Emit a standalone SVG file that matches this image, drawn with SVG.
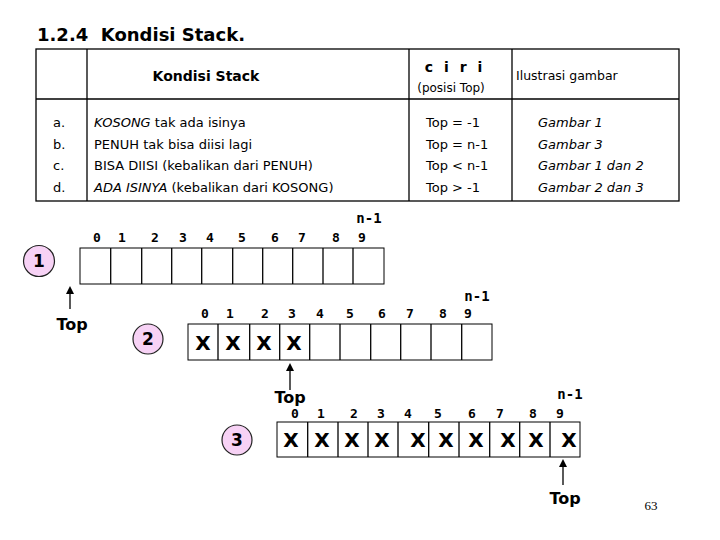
<svg xmlns="http://www.w3.org/2000/svg" width="720" height="540" viewBox="0 0 720 540">
<style>
text{font-family:"Comic Sans MS","DejaVu Sans","Liberation Sans",sans-serif;fill:#000}
.t{font-size:13px}
.h{font-size:14px;font-weight:bold}
.idx{font-size:13px;font-weight:bold;text-anchor:middle;font-family:"DejaVu Sans Mono","Liberation Mono",monospace}
.n1{font-size:14px;font-weight:bold;font-family:"DejaVu Sans Mono","Liberation Mono",monospace;text-anchor:middle}
.x{font-size:20px;font-weight:bold;text-anchor:middle}
.cell{fill:#fff;stroke:#000;stroke-width:1}
.circ{fill:#f7d2f5;stroke:#222;stroke-width:1.2}
.cn{font-size:17px;font-weight:bold;text-anchor:middle}
.ln{stroke:#000;stroke-width:1.3}
.top{font-size:16px;font-weight:bold;text-anchor:middle}
</style>
<defs>
<marker id="ah" markerWidth="8" markerHeight="8" refX="4" refY="4" orient="auto" markerUnits="userSpaceOnUse">
<path d="M0,0 L8,4 L0,8 z" fill="#000"/>
</marker>
</defs>
<text x="37" y="41" style="font-size:18px;font-weight:bold">1.2.4&#160; Kondisi Stack.</text>
<g id="table">
<rect x="36" y="49" width="643" height="152" fill="none" stroke="#000" stroke-width="1.3"/>
<line x1="87" y1="49" x2="87" y2="201" class="ln"/>
<line x1="409" y1="49" x2="409" y2="201" class="ln"/>
<line x1="512" y1="49" x2="512" y2="201" class="ln"/>
<line x1="36" y1="99" x2="679" y2="99" class="ln"/>
<text x="206" y="81" class="h" text-anchor="middle">Kondisi Stack</text>
<text x="455" y="72" class="h" text-anchor="middle" letter-spacing="3">c i r i</text>
<text x="451" y="92" style="font-size:12px" text-anchor="middle">(posisi Top)</text>
<text x="516" y="80" style="font-size:12.5px">Ilustrasi gambar</text>
<text x="53" y="127" class="t">a.</text>
<text x="53" y="149" class="t">b.</text>
<text x="53" y="170" class="t">c.</text>
<text x="53" y="192" class="t">d.</text>
<text x="94" y="127" class="t"><tspan font-style="italic">KOSONG</tspan> tak ada isinya</text>
<text x="94" y="149" class="t">PENUH tak bisa diisi lagi</text>
<text x="94" y="170" class="t">BISA DIISI (kebalikan dari PENUH)</text>
<text x="94" y="192" class="t"><tspan font-style="italic">ADA ISINYA</tspan> (kebalikan dari KOSONG)</text>
<text x="426" y="127" class="t">Top = -1</text>
<text x="426" y="149" class="t">Top = n-1</text>
<text x="426" y="170" class="t">Top &lt; n-1</text>
<text x="426" y="192" class="t">Top &gt; -1</text>
<text x="538" y="127" class="t" font-style="italic">Gambar 1</text>
<text x="538" y="149" class="t" font-style="italic">Gambar 3</text>
<text x="538" y="170" class="t" font-style="italic">Gambar 1 dan 2</text>
<text x="538" y="192" class="t" font-style="italic">Gambar 2 dan 3</text>
</g>
<g id="array1">
<rect x="80" y="248" width="304" height="36" class="cell"/>
<line x1="110.7" y1="248" x2="110.7" y2="284" class="ln"/>
<line x1="141.7" y1="248" x2="141.7" y2="284" class="ln"/>
<line x1="171.7" y1="248" x2="171.7" y2="284" class="ln"/>
<line x1="201.7" y1="248" x2="201.7" y2="284" class="ln"/>
<line x1="232.7" y1="248" x2="232.7" y2="284" class="ln"/>
<line x1="262.7" y1="248" x2="262.7" y2="284" class="ln"/>
<line x1="292.7" y1="248" x2="292.7" y2="284" class="ln"/>
<line x1="323" y1="248" x2="323" y2="284" class="ln"/>
<line x1="353" y1="248" x2="353" y2="284" class="ln"/>
<text y="242" class="idx"><tspan x="97">0</tspan><tspan x="122">1</tspan><tspan x="155">2</tspan><tspan x="183">3</tspan><tspan x="210">4</tspan><tspan x="242">5</tspan><tspan x="275">6</tspan><tspan x="302">7</tspan><tspan x="336">8</tspan><tspan x="362">9</tspan></text>
<text x="369" y="223" class="n1">n-1</text>
</g>
<g id="circle1"><circle cx="39" cy="261" r="15.5" class="circ"/><text x="39" y="267" class="cn">1</text></g>
<g id="array2">
<rect x="188" y="324" width="304" height="36" class="cell"/>
<line x1="218" y1="324" x2="218" y2="360" class="ln"/>
<line x1="249.7" y1="324" x2="249.7" y2="360" class="ln"/>
<line x1="279.7" y1="324" x2="279.7" y2="360" class="ln"/>
<line x1="309.7" y1="324" x2="309.7" y2="360" class="ln"/>
<line x1="340" y1="324" x2="340" y2="360" class="ln"/>
<line x1="370.7" y1="324" x2="370.7" y2="360" class="ln"/>
<line x1="400.7" y1="324" x2="400.7" y2="360" class="ln"/>
<line x1="431" y1="324" x2="431" y2="360" class="ln"/>
<line x1="461.7" y1="324" x2="461.7" y2="360" class="ln"/>
<text y="318" class="idx"><tspan x="205">0</tspan><tspan x="230">1</tspan><tspan x="265">2</tspan><tspan x="292">3</tspan><tspan x="320">4</tspan><tspan x="350">5</tspan><tspan x="382">6</tspan><tspan x="410">7</tspan><tspan x="443">8</tspan><tspan x="468">9</tspan></text>
<text x="477" y="301" class="n1">n-1</text>
<text y="350" class="x"><tspan x="203">X</tspan><tspan x="233">X</tspan><tspan x="264">X</tspan><tspan x="294">X</tspan></text>
</g>
<g id="circle2"><circle cx="148" cy="339" r="15" class="circ"/><text x="148" y="345" class="cn">2</text></g>
<g id="array3">
<rect x="277" y="422" width="303" height="35" class="cell"/>
<line x1="307.7" y1="422" x2="307.7" y2="457" class="ln"/>
<line x1="338" y1="422" x2="338" y2="457" class="ln"/>
<line x1="368" y1="422" x2="368" y2="457" class="ln"/>
<line x1="398" y1="422" x2="398" y2="457" class="ln"/>
<line x1="428.7" y1="422" x2="428.7" y2="457" class="ln"/>
<line x1="459" y1="422" x2="459" y2="457" class="ln"/>
<line x1="489.7" y1="422" x2="489.7" y2="457" class="ln"/>
<line x1="519.7" y1="422" x2="519.7" y2="457" class="ln"/>
<line x1="550" y1="422" x2="550" y2="457" class="ln"/>
<text y="418" class="idx"><tspan x="295">0</tspan><tspan x="321">1</tspan><tspan x="354">2</tspan><tspan x="381">3</tspan><tspan x="408">4</tspan><tspan x="438">5</tspan><tspan x="472">6</tspan><tspan x="500">7</tspan><tspan x="533">8</tspan><tspan x="560">9</tspan></text>
<text x="570" y="399" class="n1">n-1</text>
<text y="447" class="x"><tspan x="291">X</tspan><tspan x="322">X</tspan><tspan x="352">X</tspan><tspan x="382">X</tspan><tspan x="418">X</tspan><tspan x="446">X</tspan><tspan x="476">X</tspan><tspan x="508">X</tspan><tspan x="536">X</tspan><tspan x="569">X</tspan></text>
</g>
<g id="circle3"><circle cx="237" cy="440" r="15" class="circ"/><text x="237" y="446" class="cn">3</text></g>
<g id="connectors">
<line x1="70" y1="309" x2="70" y2="290" stroke="#000" stroke-width="1.3" marker-end="url(#ah)"/>
<line x1="290" y1="390" x2="290" y2="367" stroke="#000" stroke-width="1.3" marker-end="url(#ah)"/>
<line x1="563" y1="485" x2="563" y2="463" stroke="#000" stroke-width="1.3" marker-end="url(#ah)"/>
</g>
<text x="72" y="330" class="top">Top</text>
<text x="290" y="403" class="top">Top</text>
<text x="565" y="504" class="top">Top</text>
<text x="651" y="510" style="font-family:'Liberation Serif',serif;font-size:13px;fill:#000" text-anchor="middle">63</text>
</svg>
